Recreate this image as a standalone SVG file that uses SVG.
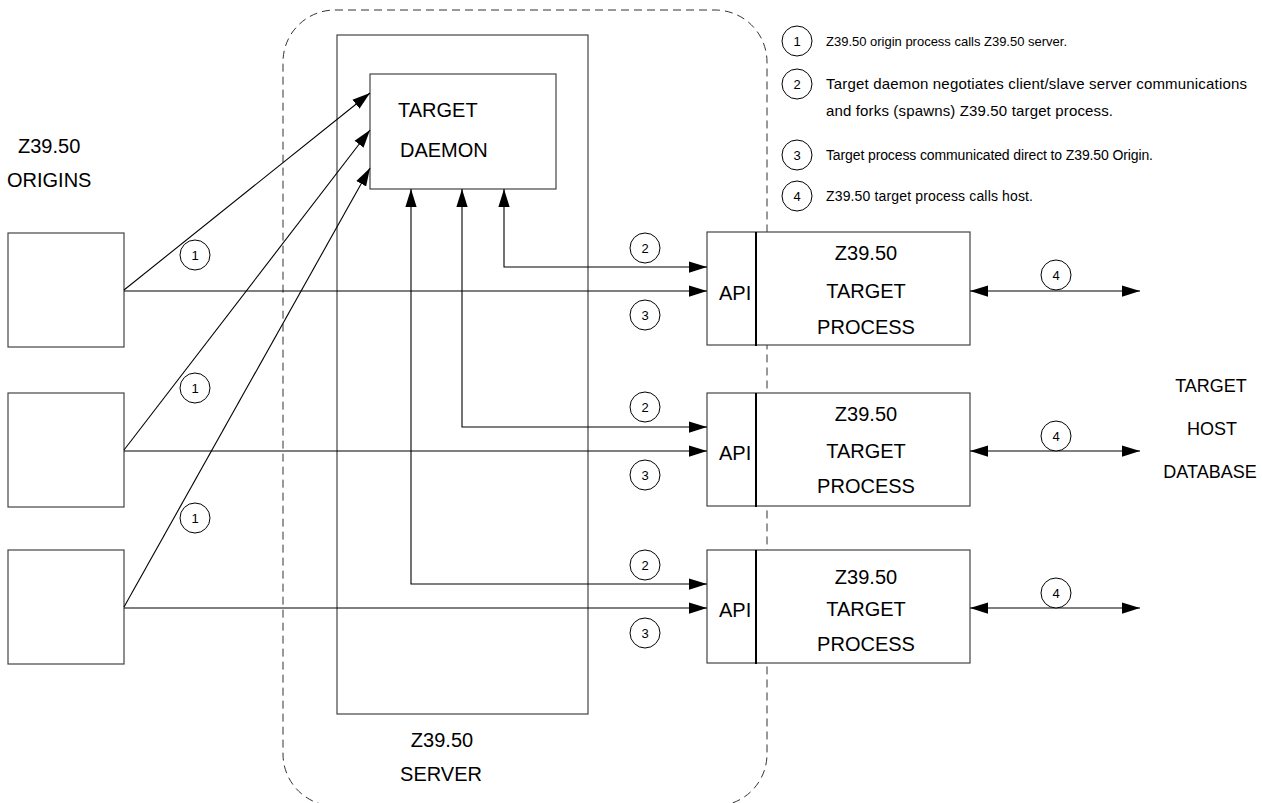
<svg xmlns="http://www.w3.org/2000/svg" width="1262" height="803" viewBox="0 0 1262 803">
<style>
text{font-family:"Liberation Sans",Arial,sans-serif;fill:#000}
.big{font-size:20px}
.side{font-size:18px;text-anchor:middle}
.num{font-size:13px;text-anchor:middle}
.box{fill:#fff;stroke:#444;stroke-width:1.2}
.ln{fill:none;stroke:#000;stroke-width:1.1}
.cir{fill:#fff;stroke:#000;stroke-width:1}
.mid{text-anchor:middle}
</style>
<defs>
<marker id="ah" markerUnits="userSpaceOnUse" markerWidth="18" markerHeight="12" refX="16" refY="5" orient="auto-start-reverse" viewBox="0 0 16 10">
<path d="M0,0 L16,5 L0,10 Z" fill="#000"/>
</marker>
</defs>
<rect id="boundary" x="283" y="10" width="484" height="796" rx="52" ry="52" fill="none" stroke="#333" stroke-width="1" stroke-dasharray="8,5"/>
<g id="server">
<rect class="box" x="337" y="35" width="251" height="679" fill="none"/>
<text class="big mid" x="442" y="747">Z39.50</text>
<text class="big mid" x="441" y="781">SERVER</text>
</g>
<g id="daemon">
<rect class="box" x="370" y="74" width="186" height="115"/>
<text class="big" x="398" y="117">TARGET</text>
<text class="big" x="400" y="157">DAEMON</text>
</g>
<g id="origins-label">
<text class="big" x="18" y="153">Z39.50</text>
<text class="big" x="7" y="187">ORIGINS</text>
</g>
<g id="origin1"><rect class="box" x="8" y="233" width="116" height="114"/></g>
<g id="origin2"><rect class="box" x="8" y="393" width="116" height="114"/></g>
<g id="origin3"><rect class="box" x="8" y="550" width="116" height="114"/></g>
<g id="process1">
<rect class="box" x="707" y="232" width="263" height="113"/>
<line x1="756" y1="232" x2="756" y2="346" stroke="#000" stroke-width="2"/>
<text class="big" x="719" y="300">API</text>
<text class="big mid" x="866" y="260">Z39.50</text>
<text class="big mid" x="866" y="298">TARGET</text>
<text class="big mid" x="866" y="334">PROCESS</text>
</g>
<g id="process2">
<rect class="box" x="707" y="393" width="263" height="113"/>
<line x1="756" y1="393" x2="756" y2="507" stroke="#000" stroke-width="2"/>
<text class="big" x="719" y="460">API</text>
<text class="big mid" x="866" y="421">Z39.50</text>
<text class="big mid" x="866" y="458">TARGET</text>
<text class="big mid" x="866" y="493">PROCESS</text>
</g>
<g id="process3">
<rect class="box" x="707" y="550" width="263" height="113"/>
<line x1="756" y1="550" x2="756" y2="664" stroke="#000" stroke-width="2"/>
<text class="big" x="719" y="617">API</text>
<text class="big mid" x="866" y="584">Z39.50</text>
<text class="big mid" x="866" y="616">TARGET</text>
<text class="big mid" x="866" y="651">PROCESS</text>
</g>
<g id="host-label">
<text class="side" x="1211" y="392">TARGET</text>
<text class="side" x="1212" y="435">HOST</text>
<text class="side" x="1210" y="478">DATABASE</text>
</g>
<g id="connectors">
<line class="ln" x1="124" y1="290" x2="370" y2="93" marker-end="url(#ah)"/>
<line class="ln" x1="124" y1="450" x2="370" y2="130" marker-end="url(#ah)"/>
<line class="ln" x1="124" y1="607" x2="370" y2="168" marker-end="url(#ah)"/>
<line class="ln" x1="124" y1="291" x2="707" y2="291" marker-end="url(#ah)"/>
<line class="ln" x1="124" y1="451" x2="707" y2="451" marker-end="url(#ah)"/>
<line class="ln" x1="124" y1="608" x2="707" y2="608" marker-end="url(#ah)"/>
<path class="ln" d="M707,267 H504 V189" marker-start="url(#ah)" marker-end="url(#ah)"/>
<path class="ln" d="M707,427 H462 V189" marker-start="url(#ah)" marker-end="url(#ah)"/>
<path class="ln" d="M707,584 H411 V189" marker-start="url(#ah)" marker-end="url(#ah)"/>
<line class="ln" x1="970" y1="291" x2="1140" y2="291" marker-start="url(#ah)" marker-end="url(#ah)"/>
<line class="ln" x1="970" y1="451" x2="1140" y2="451" marker-start="url(#ah)" marker-end="url(#ah)"/>
<line class="ln" x1="970" y1="608" x2="1140" y2="608" marker-start="url(#ah)" marker-end="url(#ah)"/>
<g id="step-labels">
<circle class="cir" cx="195" cy="255" r="15"/><text class="num" x="195" y="260">1</text>
<circle class="cir" cx="195" cy="388" r="15"/><text class="num" x="195" y="393">1</text>
<circle class="cir" cx="195" cy="518" r="15"/><text class="num" x="195" y="523">1</text>
<circle class="cir" cx="645" cy="248" r="15"/><text class="num" x="645" y="253">2</text>
<circle class="cir" cx="645" cy="315" r="15"/><text class="num" x="645" y="320">3</text>
<circle class="cir" cx="645" cy="407" r="15"/><text class="num" x="645" y="412">2</text>
<circle class="cir" cx="645" cy="475" r="15"/><text class="num" x="645" y="480">3</text>
<circle class="cir" cx="645" cy="565" r="15"/><text class="num" x="645" y="570">2</text>
<circle class="cir" cx="645" cy="633" r="15"/><text class="num" x="645" y="638">3</text>
<circle class="cir" cx="1056" cy="275" r="15"/><text class="num" x="1056" y="280">4</text>
<circle class="cir" cx="1056" cy="436" r="15"/><text class="num" x="1056" y="441">4</text>
<circle class="cir" cx="1056" cy="593" r="15"/><text class="num" x="1056" y="598">4</text>
</g>
</g>
<g id="legend">
<circle class="cir" cx="797" cy="41" r="15"/><text class="num" x="797" y="46">1</text>
<text x="826" y="46" font-size="13" textLength="241">Z39.50 origin process calls Z39.50 server.</text>
<circle class="cir" cx="797" cy="84" r="15"/><text class="num" x="797" y="89">2</text>
<text x="826" y="89" font-size="15" textLength="421">Target daemon negotiates client/slave server communications</text>
<text x="826" y="116" font-size="15" textLength="287">and forks (spawns) Z39.50 target process.</text>
<circle class="cir" cx="797" cy="155" r="15"/><text class="num" x="797" y="160">3</text>
<text x="826" y="160" font-size="14" textLength="327">Target process communicated direct to Z39.50 Origin.</text>
<circle class="cir" cx="797" cy="196" r="15"/><text class="num" x="797" y="201">4</text>
<text x="826" y="201" font-size="14" textLength="207">Z39.50 target process calls host.</text>
</g>
</svg>
